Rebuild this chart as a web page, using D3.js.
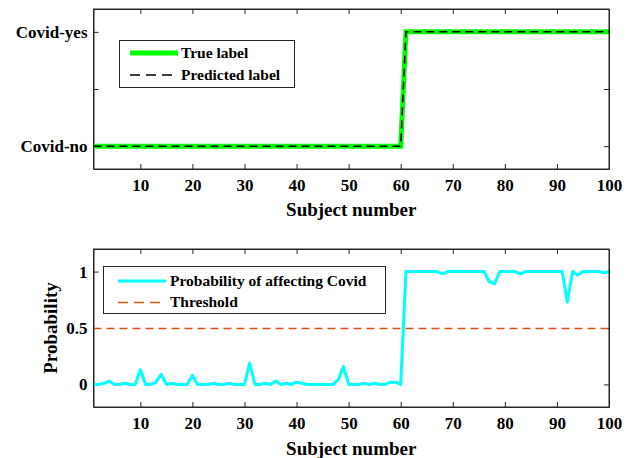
<!DOCTYPE html>
<html>
<head>
<meta charset="utf-8">
<script src="https://cdn.jsdelivr.net/npm/d3@7"></script>
<style>
  body { margin: 0; background: #fff; }
  svg { display: block; }
  text { font-family: "Liberation Serif", "Times New Roman", serif; font-weight: bold; fill: #000; }
  .axis path, .axis line { stroke: #262626; }
</style>
</head>
<body>
<svg id="chart" width="637" height="458"></svg>
<script>
// ---- Dados
const subjects = d3.range(1, 101);
const trueLabel = subjects.map(s => (s <= 60 ? 0 : 1));
const predictedLabel = subjects.map(s => (s <= 60 ? 0 : 1));

// probabilidade (sujeitos 1..100)
const probability = [
  0.00, 0.00, 0.01, 0.03, 0.00, 0.00, 0.01, 0.00, 0.00, 0.13,
  0.00, 0.00, 0.02, 0.09, 0.00, 0.01, 0.00, 0.00, 0.00, 0.08,
  0.00, 0.00, 0.00, 0.01, 0.00, 0.00, 0.01, 0.00, 0.00, 0.00,
  0.19, 0.00, 0.00, 0.01, 0.00, 0.03, 0.00, 0.01, 0.00, 0.02,
  0.01, 0.00, 0.00, 0.00, 0.00, 0.00, 0.00, 0.04, 0.16, 0.00,
  0.00, 0.00, 0.01, 0.00, 0.01, 0.00, 0.00, 0.02, 0.02, 0.00,
  1.00, 1.00, 1.00, 1.00, 1.00, 1.00, 1.00, 0.98, 1.00, 1.00,
  1.00, 1.00, 1.00, 1.00, 1.00, 1.00, 0.91, 0.89, 1.00, 1.00,
  1.00, 1.00, 0.98, 1.00, 1.00, 1.00, 1.00, 1.00, 1.00, 1.00,
  1.00, 0.73, 1.00, 0.97, 1.00, 1.00, 1.00, 1.00, 0.99, 1.00
];
const threshold = 0.5;

const xTicks = [10, 20, 30, 40, 50, 60, 70, 80, 90, 100];
const yTicks = [0, 0.5, 1];
const topYLabels = ["Covid-no", "", "Covid-yes"];
const bottomYLabels = ["0", "0.5", "1"];

const svg = d3.select('#chart');
const left = 93.5, right = 609;

// ---- Helper: eixos estilo MATLAB (ticks para dentro, caixa completa)
function drawAxes(g, mapX, mapY, yLabels, top, bottom) {
    g.append('rect')
        .attr('x', left).attr('y', top)
        .attr('width', right - left).attr('height', bottom - top)
        .attr('fill', '#fff');

    const xAxis = d3.axisBottom(mapX).tickValues(xTicks).tickSize(-5).tickSizeOuter(0).tickPadding(10);
    g.append('g').attr('class', 'axis')
        .attr('transform', `translate(0, ${bottom})`)
        .call(xAxis)
        .call(a => a.selectAll('text').style('font-size', '17px'));

    g.append('g').attr('class', 'axis')
        .attr('transform', `translate(0, ${top})`)
        .call(d3.axisTop(mapX).tickValues(xTicks).tickSize(-5).tickSizeOuter(0).tickFormat(''));

    const yAxis = d3.axisLeft(mapY).tickValues(yTicks).tickSize(-5).tickSizeOuter(0).tickPadding(6)
        .tickFormat((d, i) => yLabels[i]);
    g.append('g').attr('class', 'axis')
        .attr('transform', `translate(${left}, 0)`)
        .call(yAxis)
        .call(a => a.selectAll('text').style('font-size', '17px'));

    g.append('g').attr('class', 'axis')
        .attr('transform', `translate(${right}, 0)`)
        .call(d3.axisRight(mapY).tickValues(yTicks).tickSize(-5).tickSizeOuter(0).tickFormat(''));
}

function drawFrame(g, top, bottom) {
    g.append('rect')
        .attr('x', left).attr('y', top)
        .attr('width', right - left).attr('height', bottom - top)
        .attr('fill', 'none')
        .attr('stroke', '#262626')
        .attr('stroke-width', 1);
}

// ---- Gráfico 1: rótulos
{
    const top = 9, bottom = 169;
    const mapX = d3.scaleLinear().domain([1, 100]).range([left, right]);
    const mapY = d3.scaleLinear().domain([-0.2, 1.2]).range([bottom, top]);
    const g = svg.append('g');
    drawAxes(g, mapX, mapY, topYLabels, top, bottom);

    const line = d3.line().x((d, i) => mapX(subjects[i])).y(d => mapY(d));
    g.append('path').datum(trueLabel)
        .attr('fill', 'none').attr('stroke', '#00ff00').attr('stroke-width', 5)
        .attr('d', line);
    g.append('path').datum(predictedLabel)
        .attr('fill', 'none').attr('stroke', '#000').attr('stroke-width', 1.5)
        .attr('stroke-dasharray', '8,5')
        .attr('d', line);
    drawFrame(g, top, bottom);

    g.append('text')
        .attr('x', (left + right) / 2).attr('y', 216)
        .attr('text-anchor', 'middle').style('font-size', '19px')
        .text('Subject number');

    // legenda
    const lg = g.append('g');
    lg.append('rect').attr('x', 119.5).attr('y', 40.5).attr('width', 175).attr('height', 47)
        .attr('fill', '#fff').attr('stroke', '#262626');
    lg.append('line').attr('x1', 130).attr('x2', 178).attr('y1', 53).attr('y2', 53)
        .attr('stroke', '#00ff00').attr('stroke-width', 5);
    lg.append('line').attr('x1', 130).attr('x2', 178).attr('y1', 75).attr('y2', 75)
        .attr('stroke', '#000').attr('stroke-width', 1.5).attr('stroke-dasharray', '10,6');
    lg.append('text').attr('x', 181).attr('y', 58).style('font-size', '15.5px').text('True label');
    lg.append('text').attr('x', 181).attr('y', 80).style('font-size', '15.5px').text('Predicted label');
}

// ---- Gráfico 2: probabilidade
{
    const top = 249, bottom = 407;
    const mapX = d3.scaleLinear().domain([1, 100]).range([left, right]);
    const mapY = d3.scaleLinear().domain([-0.2, 1.2]).range([bottom, top]);
    const g = svg.append('g');
    drawAxes(g, mapX, mapY, bottomYLabels, top, bottom);

    g.append('path').datum([1, 100])
        .attr('fill', 'none').attr('stroke', '#d95319').attr('stroke-width', 1.5)
        .attr('stroke-dasharray', '8,5')
        .attr('d', d3.line().x(d => mapX(d)).y(() => Math.round(mapY(threshold)) + 0.5));

    const line = d3.line().x((d, i) => mapX(subjects[i])).y(d => mapY(d));
    g.append('path').datum(probability)
        .attr('fill', 'none').attr('stroke', '#00ffff').attr('stroke-width', 3)
        .attr('stroke-linejoin', 'round')
        .attr('d', line);
    drawFrame(g, top, bottom);

    g.append('text')
        .attr('x', (left + right) / 2).attr('y', 455)
        .attr('text-anchor', 'middle').style('font-size', '19px')
        .text('Subject number');

    g.append('text')
        .attr('transform', `translate(57, ${(top + bottom) / 2}) rotate(-90)`)
        .attr('text-anchor', 'middle').style('font-size', '19px')
        .text('Probability');

    const lg = g.append('g');
    lg.append('rect').attr('x', 103.5).attr('y', 266.5).attr('width', 282).attr('height', 47)
        .attr('fill', '#fff').attr('stroke', '#262626');
    lg.append('line').attr('x1', 118).attr('x2', 166).attr('y1', 281).attr('y2', 281)
        .attr('stroke', '#00ffff').attr('stroke-width', 3);
    lg.append('line').attr('x1', 118).attr('x2', 166).attr('y1', 302.5).attr('y2', 302.5)
        .attr('stroke', '#d95319').attr('stroke-width', 1.5).attr('stroke-dasharray', '10,6');
    lg.append('text').attr('x', 170).attr('y', 286).style('font-size', '15.5px').text('Probability of affecting Covid');
    lg.append('text').attr('x', 170).attr('y', 307).style('font-size', '15.5px').text('Threshold');
}
</script>
</body>
</html>
